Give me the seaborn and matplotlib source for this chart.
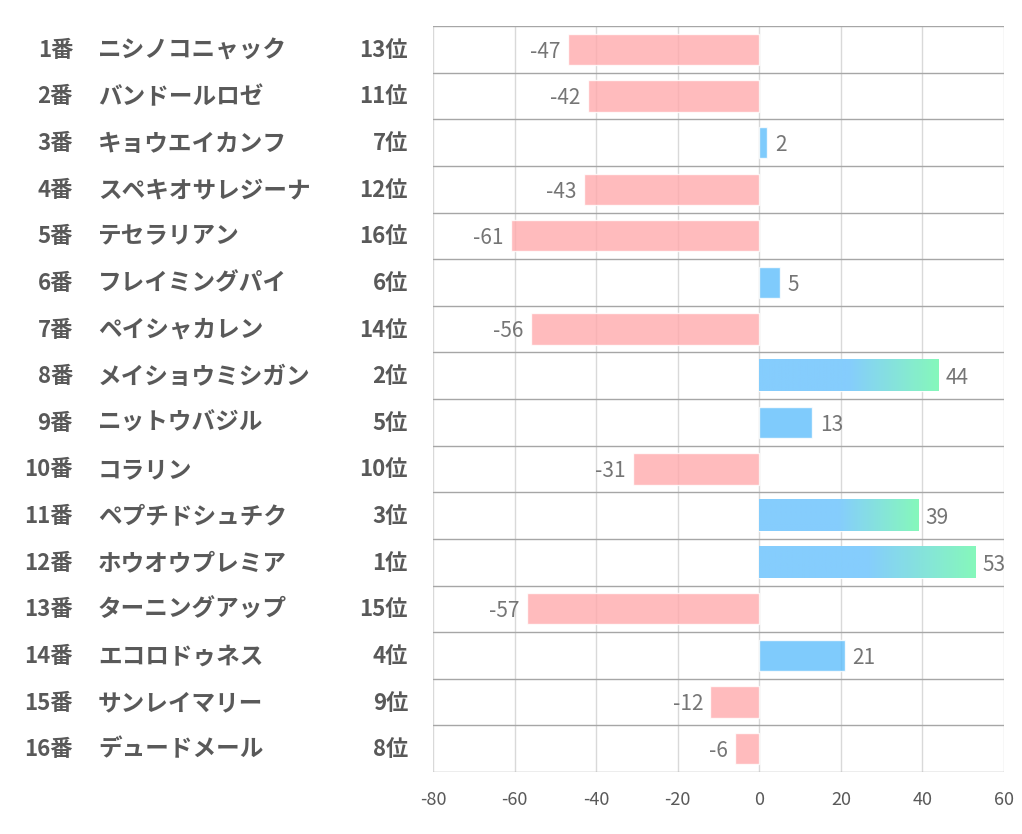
import numpy as np
import pandas as pd
import seaborn as sns
import matplotlib.pyplot as plt
from matplotlib.colors import LinearSegmentedColormap
from matplotlib.ticker import MultipleLocator
from matplotlib.transforms import blended_transform_factory

numbers = ["1番", "2番", "3番", "4番", "5番", "6番", "7番", "8番",
           "9番", "10番", "11番", "12番", "13番", "14番", "15番", "16番"]
names = ["ニシノコニャック", "バンドールロゼ", "キョウエイカンフ", "スペキオサレジーナ",
         "テセラリアン", "フレイミングパイ", "ペイシャカレン", "メイショウミシガン",
         "ニットウバジル", "コラリン", "ペプチドシュチク", "ホウオウプレミア",
         "ターニングアップ", "エコロドゥネス", "サンレイマリー", "デュードメール"]
ranks = ["13位", "11位", "7位", "12位", "16位", "6位", "14位", "2位",
         "5位", "10位", "3位", "1位", "15位", "4位", "9位", "8位"]
values = [-47, -42, 2, -43, -61, 5, -56, 44, 13, -31, 39, 53, -57, 21, -12, -6]
top3 = ["1位", "2位", "3位"]

df = pd.DataFrame({"horse": numbers, "value": values, "rank": ranks})
df["kind"] = np.where(df["value"] < 0, "neg",
                      np.where(df["rank"].isin(top3), "top", "pos"))

pink = "#FFAAAD"
blue = "#5FBEFC"
text_c = "#595959"

sns.set_style("white")
plt.rcParams["font.family"] = ["Noto Sans CJK JP", "DejaVu Sans"]
plt.rcParams["axes.unicode_minus"] = False

fig = plt.figure(figsize=(10.22, 8.34), dpi=100)
ax = fig.add_axes([0.4237, 0.0743, 0.5587, 0.8945])

sns.barplot(data=df, x="value", y="horse", hue="kind", order=numbers,
            palette={"neg": pink, "pos": blue, "top": (1, 1, 1, 0)},
            orient="h", width=0.67, alpha=0.8, legend=False, saturation=1,
            ax=ax)

# gradient fill for the top 3
t = np.linspace(0, 1, 256)
grad = np.clip((t - 0.5) / 0.5, 0, 1)[None, :]
cmap = LinearSegmentedColormap.from_list("bg", ["#7FCBFD", "#7FF8B8"])
for i, (v, r) in enumerate(zip(values, ranks)):
    if r in top3:
        ax.imshow(grad, cmap=cmap, extent=(0, v, i + 0.335, i - 0.335),
                  aspect="auto", alpha=0.95, zorder=3, interpolation="bilinear")

ax.set_xlim(-80, 60)
ax.set_ylim(15.5, -0.5)
ax.xaxis.set_major_locator(MultipleLocator(20))
ax.set_yticks(np.arange(-0.5, 16, 1))
ax.set_yticklabels([])
ax.grid(axis="x", color="#D9D9D9", linewidth=1)
ax.grid(axis="y", color="#A6A6A6", linewidth=1)
ax.set_axisbelow(True)
for s in ax.spines.values():
    s.set_visible(False)
ax.tick_params(axis="both", length=0)
ax.tick_params(axis="x", pad=14, labelsize=13, labelcolor=text_c)
ax.set_xlabel("")
ax.set_ylabel("")

for i, v in enumerate(values):
    if v < 0:
        ax.text(v - 1.8, i + 0.05, str(v), ha="right", va="center",
                fontsize=15, color="#757575")
    else:
        ax.text(v + 1.8, i + 0.05, str(v), ha="left", va="center",
                fontsize=15, color="#757575")

bt = blended_transform_factory(fig.transFigure, ax.transData)
for i in range(len(numbers)):
    ax.text(73 / 1022, i + 0.02, numbers[i], transform=bt, ha="right",
            va="center", fontsize=16, fontweight="bold", color=text_c,
            clip_on=False)
    ax.text(98 / 1022, i + 0.02, names[i], transform=bt, ha="left",
            va="center", fontsize=17, fontweight="bold", color=text_c,
            clip_on=False)
    ax.text(408 / 1022, i + 0.02, ranks[i], transform=bt, ha="right",
            va="center", fontsize=16, fontweight="bold", color=text_c,
            clip_on=False)

fig.savefig("out.png", dpi=100)
